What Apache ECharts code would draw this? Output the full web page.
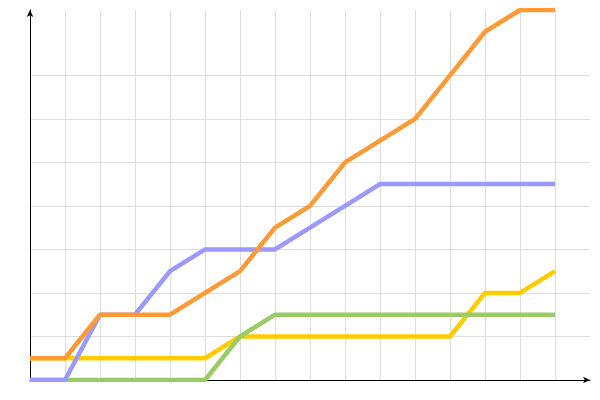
<!DOCTYPE html>
<html>
<head>
<meta charset="utf-8">
<script src="https://cdn.jsdelivr.net/npm/echarts@6/dist/echarts.min.js"></script>
<style>html,body{margin:0;padding:0;background:#fff;}#c{width:600px;height:400px;}</style>
</head>
<body>
<div id="c"></div>
<script>
var steps = [0,1,2,3,4,5,6,7,8,9,10,11,12,13,14,15];
var orangeValues = [1,1,3,3,3,4,5,7,8,10,11,12,14,16,17,17];
var blueValues   = [0,0,3,3,5,6,6,6,7,8,9,9,9,9,9,9];
var yellowValues = [1,1,1,1,1,1,2,2,2,2,2,2,2,4,4,5];
var greenValues  = [0,0,0,0,0,0,2,3,3,3,3,3,3,3,3,3];

function pairs(vals){ return steps.map(function(s,i){ return [s, vals[i]]; }); }

var yGridColors = [];
for (var j = 0; j < 8; j++) yGridColors.push('#dddddd');
yGridColors.push('rgba(0,0,0,0)');
yGridColors.push('rgba(0,0,0,0)');

function mk(name, vals, color){
  return {name:name, type:'line', data:pairs(vals), showSymbol:false, symbol:'none',
    lineStyle:{color:color, width:4.5}, itemStyle:{color:color}, silent:true};
}

var chart = echarts.init(document.getElementById('c'));
chart.setOption({
  animation:false,
  grid:{left:30, right:10, top:10, bottom:20, containLabel:false},
  xAxis:{type:'value', min:0, max:16, interval:1,
    axisLine:{show:true, lineStyle:{color:'#000', width:1}, symbol:['none','arrow'], symbolSize:[5,7]},
    axisTick:{show:false}, axisLabel:{show:false},
    splitLine:{show:true, showMaxLine:false, lineStyle:{color:'#dddddd', width:1}}},
  yAxis:{type:'value', min:0, max:17, interval:2,
    axisLine:{show:true, lineStyle:{color:'#000', width:1}, symbol:['none','arrow'], symbolSize:[5,7]},
    axisTick:{show:false}, axisLabel:{show:false},
    splitLine:{show:true, showMaxLine:false, lineStyle:{color:yGridColors, width:1}}},
  series:[
    mk('yellow', yellowValues, '#ffcc00'),
    mk('green', greenValues, '#99cc66'),
    mk('blue', blueValues, '#9999ff'),
    mk('orange', orangeValues, '#ff9933')
  ]
});
</script>
</body>
</html>
